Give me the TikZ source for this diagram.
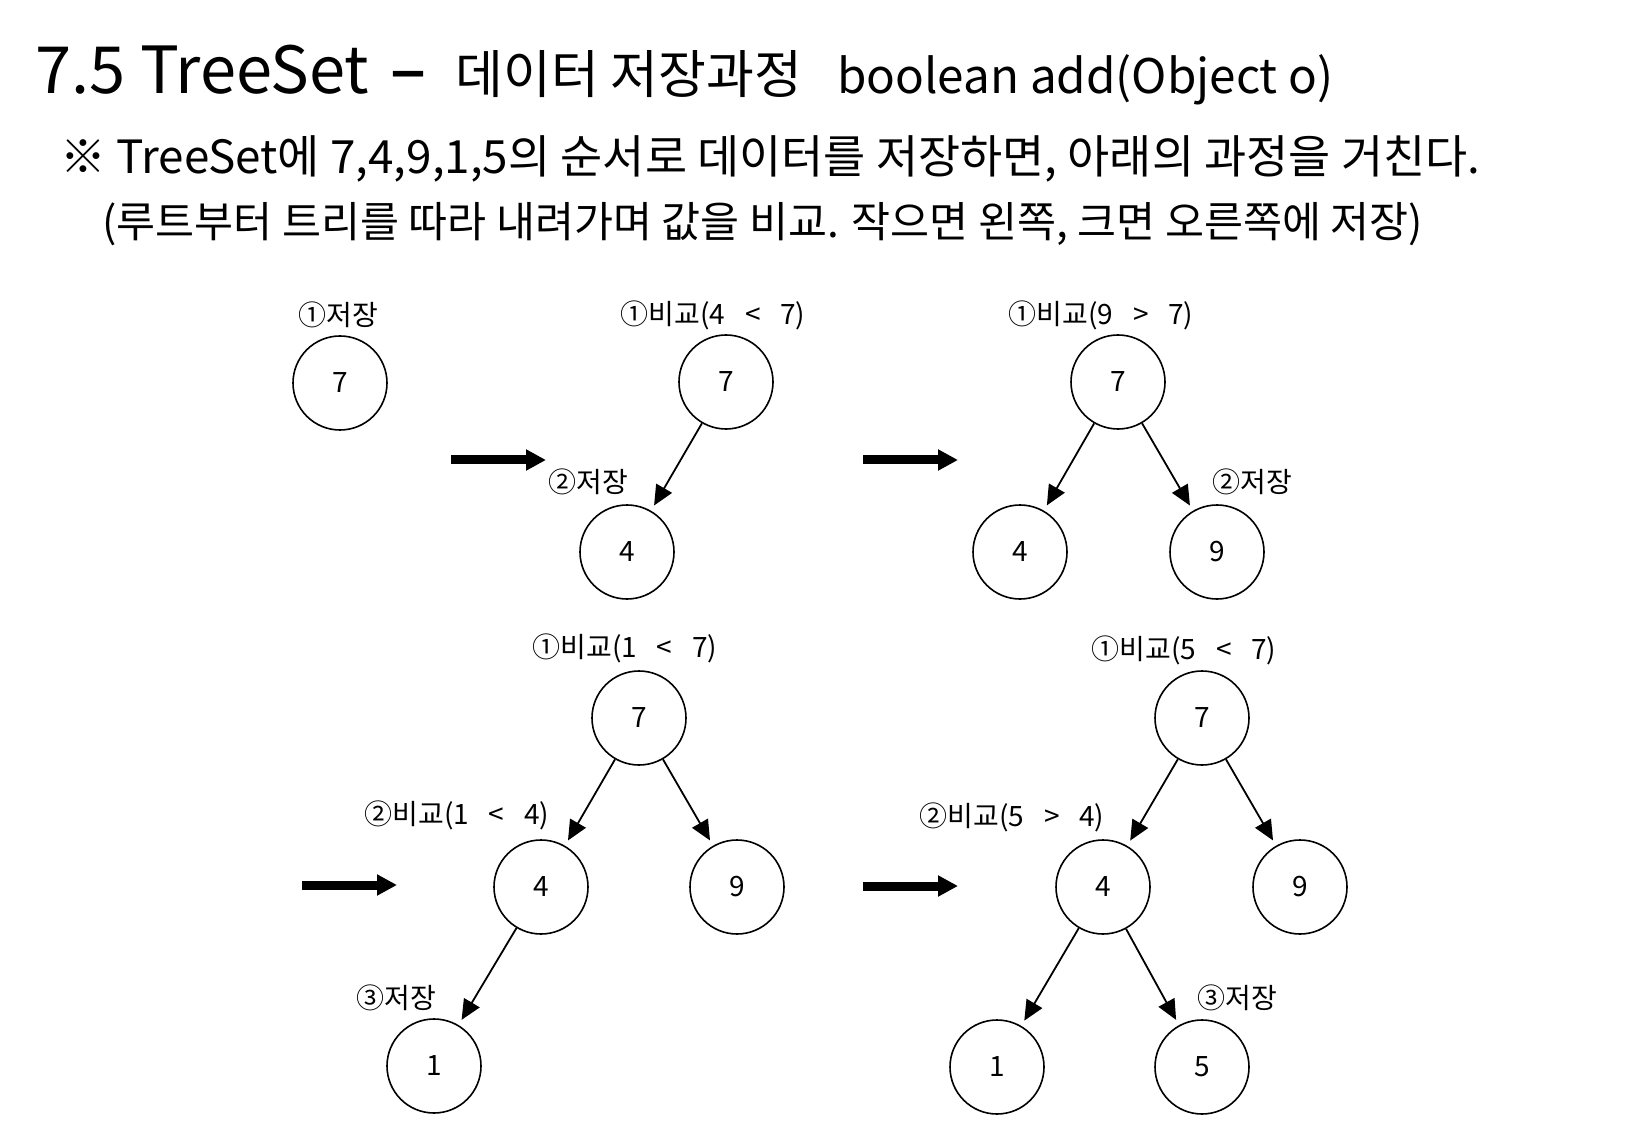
\documentclass[tikz,border=0pt]{standalone}
\usepackage{fontspec}
\setmainfont{Noto Sans CJK KR}
\newfontfamily\dashfont{Noto Sans}
\usetikzlibrary{arrows.meta}
\usetikzlibrary{positioning}

\begin{document}
\begin{tikzpicture}[x=0.5pt,y=-0.5pt]
\tikzset{treenode/.style={circle,draw,line width=0.8pt,minimum size=47pt,inner sep=0pt,font=\fontsize{14}{16}\selectfont},
steplabel/.style={inner sep=0pt,font=\fontsize{14}{16}\selectfont},
treeedge/.style={line width=0.9pt,-{Triangle[length=10pt,width=9pt]},shorten >=3pt},
nextstep/.style={line width=4.5pt,-{Triangle[length=10pt,width=10pt]}}}
\useasboundingbox (0,0) rectangle (1626,1122);
% heading
\node[anchor=base west,inner sep=0pt](title) at (35,94){\fontsize{32.5}{40}\selectfont 7.5 TreeSet\hspace{0.32em}{\dashfont\fontsize{36}{40}\selectfont –}\hspace{0.45em}\fontsize{26}{30}\selectfont 데이터 저장과정\hspace{0.68em}\fontsize{23.8}{30}\selectfont boolean add(Object o)};
\node[anchor=base west,inner sep=0pt](sub) at (60,174){\fontsize{22.9}{26}\selectfont ※ TreeSet에 7,4,9,1,5의 순서로 데이터를 저장하면, 아래의 과정을 거친다.};
\node[anchor=base west,inner sep=0pt](note) at (102,238){\fontsize{21.2}{24}\selectfont (루트부터 트리를 따라 내려가며 값을 비교. 작으면 왼쪽, 크면 오른쪽에 저장)};
% step 1
\node[treenode](a7) at (340,383){7};
\node[steplabel] at (338,315){①저장};
\coordinate (s1) at (451,460);
\coordinate (e1) at (546,460);
\draw[nextstep](s1) -- (e1);
% step 2
\node[treenode](b7) at (726,382){7};
\node[treenode](b4) at (627,552){4};
\node[steplabel] at (713,315){①비교(4\hspace{0.7em}<\hspace{0.7em}7)};
\node[steplabel] at (588,482){②저장};
\draw[treeedge](b7) -- (b4);
\coordinate (s2) at (863,460);
\coordinate (e2) at (958,460);
\draw[nextstep](s2) -- (e2);
% step 3
\node[treenode](c7) at (1118,382){7};
\node[treenode](c4) at (1020,552){4};
\node[treenode](c9) at (1217,552){9};
\node[steplabel] at (1101,315){①비교(9\hspace{0.7em}>\hspace{0.7em}7)};
\node[steplabel] at (1252,482){②저장};
\draw[treeedge](c7) -- (c4);
\draw[treeedge](c7) -- (c9);
% step 4
\coordinate (s3) at (302,885);
\coordinate (e3) at (397,885);
\draw[nextstep](s3) -- (e3);
\node[treenode](d7) at (639,718){7};
\node[treenode](d4) at (541,887){4};
\node[treenode](d9) at (737,887){9};
\node[treenode](d1) at (434,1066){1};
\node[steplabel] at (625,648){①비교(1\hspace{0.7em}<\hspace{0.7em}7)};
\node[steplabel] at (457,815){②비교(1\hspace{0.7em}<\hspace{0.7em}4)};
\node[steplabel] at (396,998){③저장};
\draw[treeedge](d7) -- (d4);
\draw[treeedge](d7) -- (d9);
\draw[treeedge](d4) -- (d1);
% step 5
\coordinate (s4) at (863,886);
\coordinate (e4) at (958,886);
\draw[nextstep](s4) -- (e4);
\node[treenode](f7) at (1202,718){7};
\node[treenode](f4) at (1103,887){4};
\node[treenode](f9) at (1300,887){9};
\node[treenode](f1) at (997,1067){1};
\node[treenode](f5) at (1202,1067){5};
\node[steplabel] at (1184,650){①비교(5\hspace{0.7em}<\hspace{0.7em}7)};
\node[steplabel] at (1012,817){②비교(5\hspace{0.7em}>\hspace{0.7em}4)};
\node[steplabel] at (1237,998){③저장};
\draw[treeedge](f7) -- (f4);
\draw[treeedge](f7) -- (f9);
\draw[treeedge](f4) -- (f1);
\draw[treeedge](f4) -- (f5);
\end{tikzpicture}
\end{document}
